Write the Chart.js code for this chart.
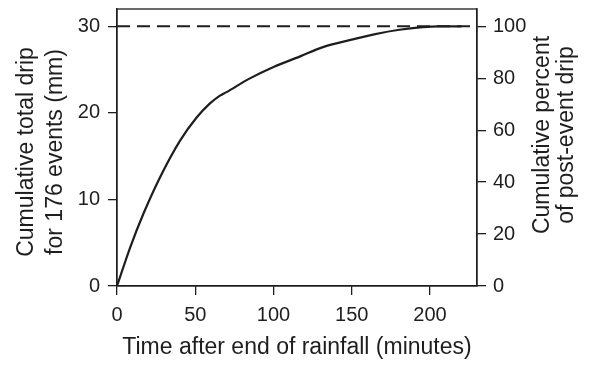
<!DOCTYPE html>
<html>
<head>
<meta charset="utf-8">
<script src="https://cdn.jsdelivr.net/npm/chart.js@4"></script>
<style>
  html, body { margin: 0; padding: 0; background: #fff; }
  #wrap { width: 595px; height: 365px; }
</style>
</head>
<body>
<div id="wrap"><canvas id="dripChart" width="595" height="365"></canvas></div>
<script>
// values
const minutes = [0, 8.5, 17, 27.6, 40.3, 51, 59.4, 65.8, 70, 84, 100, 116.7, 131.6, 148.6, 165, 180.4, 195.3, 205, 220];
const drip = [0, 4.5, 8.4, 12.6, 16.8, 19.5, 21.1, 22.0, 22.4, 23.9, 25.3, 26.5, 27.6, 28.4, 29.1, 29.6, 29.9, 30.0, 30.0];
const totalLine = [[0, 30], [230, 30]];
const xTicks = [0, 50, 100, 150, 200];
const leftTicks = [0, 10, 20, 30];
const rightTicks = [0, 20, 40, 60, 80, 100];

const leftTitle = ['Cumulative total drip', 'for 176 events (mm)'];
const rightTitle = ['Cumulative percent', 'of post-event drip'];
const xTitle = 'Time after end of rainfall (minutes)';

const FONT = "'Liberation Sans', Arial, sans-serif";
const INK = '#1e1e1e';

// frame + rotated y titles
const extras = {
  id: 'extras',
  afterDraw(chart) {
    const c = chart.ctx;
    const a = chart.chartArea;
    c.save();
    c.strokeStyle = INK;
    c.lineWidth = 1.3;
    c.strokeRect(a.left, a.top, a.right - a.left, a.bottom - a.top);
    c.fillStyle = INK;
    c.font = '23px ' + FONT;
    c.textAlign = 'center';
    c.textBaseline = 'alphabetic';
    const drawLines = (lines, xs, yc) => {
      lines.forEach((t, i) => {
        c.save();
        c.translate(xs[i], yc);
        c.rotate(-Math.PI / 2);
        c.fillText(t, 0, 0);
        c.restore();
      });
    };
    drawLines(leftTitle, [33, 62], 152);
    drawLines(rightTitle, [549, 573], 135);
    c.restore();
  }
};

const noPad = s => { s.paddingTop = 0; s.paddingBottom = 0; s.paddingLeft = 0; s.paddingRight = 0; };

new Chart(document.getElementById('dripChart'), {
  type: 'line',
  data: {
    datasets: [
      {
        data: minutes.map((m, i) => ({ x: m, y: drip[i] })),
        borderColor: INK,
        borderWidth: 2.2,
        pointRadius: 0,
        cubicInterpolationMode: 'monotone',
        fill: false
      },
      {
        data: totalLine.map(p => ({ x: p[0], y: p[1] })),
        borderColor: INK,
        borderWidth: 2,
        borderDash: [13, 7],
        pointRadius: 0,
        fill: false
      }
    ]
  },
  options: {
    responsive: false,
    animation: false,
    layout: { padding: { top: 9, left: 0, right: 0, bottom: 0 } },
    plugins: { legend: { display: false }, tooltip: { enabled: false } },
    scales: {
      x: {
        type: 'linear',
        min: 0,
        max: 230,
        afterBuildTicks: s => { s.ticks = xTicks.map(v => ({ value: v })); },
        afterFit: s => { s.height = 79; noPad(s); },
        border: { display: true, color: INK, width: 1.3 },
        grid: { drawOnChartArea: false, color: INK, tickLength: 9, lineWidth: 1.3 },
        ticks: { color: INK, padding: 8, font: { family: FONT, size: 20 } },
        title: {
          display: true,
          text: xTitle,
          color: INK,
          padding: { top: 0, bottom: 4 },
          font: { family: FONT, size: 23 }
        }
      },
      y: {
        position: 'left',
        min: 0,
        max: 32,
        afterBuildTicks: s => { s.ticks = leftTicks.map(v => ({ value: v })); },
        afterFit: s => { s.width = 117; noPad(s); },
        border: { display: true, color: INK, width: 1.3 },
        grid: { drawOnChartArea: false, color: INK, tickLength: 9, lineWidth: 1.3 },
        ticks: { color: INK, padding: 8, font: { family: FONT, size: 20 } }
      },
      y1: {
        position: 'right',
        min: 0,
        max: 320 / 3,
        afterBuildTicks: s => { s.ticks = rightTicks.map(v => ({ value: v })); },
        afterFit: s => { s.width = 118; noPad(s); },
        border: { display: true, color: INK, width: 1.3 },
        grid: { drawOnChartArea: false, color: INK, tickLength: 9, lineWidth: 1.3 },
        ticks: { color: INK, padding: 7, font: { family: FONT, size: 20 } }
      }
    }
  },
  plugins: [extras]
});
</script>
</body>
</html>
